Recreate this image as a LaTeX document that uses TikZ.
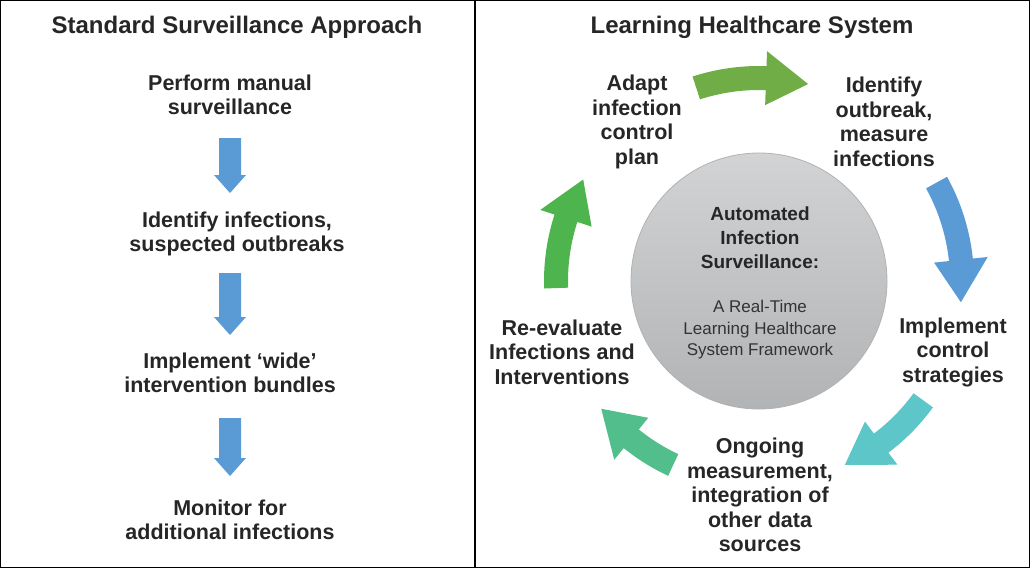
\documentclass[tikz,border=0pt]{standalone}
\usepackage{fontspec}
\setmainfont{Liberation Sans}
\begin{document}
\begin{tikzpicture}[x=1pt,y=-1pt,
  lbl/.style={align=center,font=\fontsize{21.5}{24.5}\selectfont\bfseries,text=black!85},
  ttl/.style={font=\fontsize{24}{26}\selectfont\bfseries,text=black!85},
]
\definecolor{arrblue}{HTML}{5B9BD5}
\definecolor{gA}{HTML}{70AD47}
\definecolor{gB}{HTML}{4EB54E}
\definecolor{gC}{HTML}{52BE8C}
\definecolor{cC}{HTML}{5CC6C8}
\useasboundingbox (0,0) rectangle (1030,568);
\draw[line width=1.2pt] (0.6,0.6) rectangle (1029.4,567.4);
\draw[line width=1.2pt] (475,0) -- (475,568);
% left
\node[ttl] (t1) at (237,27) {Standard Surveillance Approach};
\node[lbl] (l1) at (230,95) {Perform manual\\surveillance};
\node[lbl] (l2) at (237,234) {Identify infections,\\suspected outbreaks};
\node[lbl] (l3) at (230,373) {Implement ‘wide’\\intervention bundles};
\node[lbl] (l4) at (230,520) {Monitor for\\additional infections};
\newcommand\dnarrow[2]{\fill[arrblue] (219,#1) -- (241,#1) -- (241,#2-18) -- (246,#2-18) -- (230,#2) -- (214,#2-18) -- (219,#2-18) -- cycle;}
\dnarrow{138}{193}
\dnarrow{273}{335}
\dnarrow{418}{476}
% right
\node[ttl] (t2) at (752,27) {Learning Healthcare System};
\shade[top color={rgb,255:red,210;green,211;blue,213},bottom color={rgb,255:red,178;green,179;blue,181}] (759,281) circle (128);
\draw[black!30,line width=0.8pt] (759,281) circle (128);
\node[align=center,font=\fontsize{19}{24}\selectfont\bfseries,text=black!85] (c1) at (760,238) {Automated\\Infection\\Surveillance:};
\node[align=center,font=\fontsize{17}{21.5}\selectfont,text=black!80] (c2) at (760,330) {A Real-Time\\Learning Healthcare\\System Framework};
\node[lbl] (n1) at (637,122) {Adapt\\infection\\control\\plan};
\node[lbl] (n2) at (884,122) {Identify\\outbreak,\\measure\\infections};
\node[lbl] (n3) at (953,352) {Implement\\control\\strategies};
\node[lbl] (n4) at (760,495) {Ongoing\\measurement,\\integration of\\other data\\sources};
\node[lbl] (n5) at (562,352) {Re-evaluate\\Infections and\\Interventions};
% ring arrows: #1 start angle, #2 end angle (math angle), #3 colour
\newcommand\ringarrow[3]{%
  \fill[#3] plot[domain=#1:#2,samples=30,smooth] ({759+191*cos(\x)},{281-191*sin(\x)})
   -- ({759+176*cos(#2)},{281-176*sin(#2)})
   -- ({759+203*cos(#2-12)},{281-203*sin(#2-12)})
   -- ({759+230*cos(#2)},{281-230*sin(#2)})
   -- plot[domain=#2:#1,samples=30,smooth] ({759+215*cos(\x)},{281-215*sin(\x)}) -- cycle;}
\ringarrow{108}{88}{gA}
\ringarrow{29}{6}{arrblue}
\ringarrow{-36}{-53}{cC}
\ringarrow{-115}{-129}{gC}
\ringarrow{182}{162}{gB}
\end{tikzpicture}
\end{document}
